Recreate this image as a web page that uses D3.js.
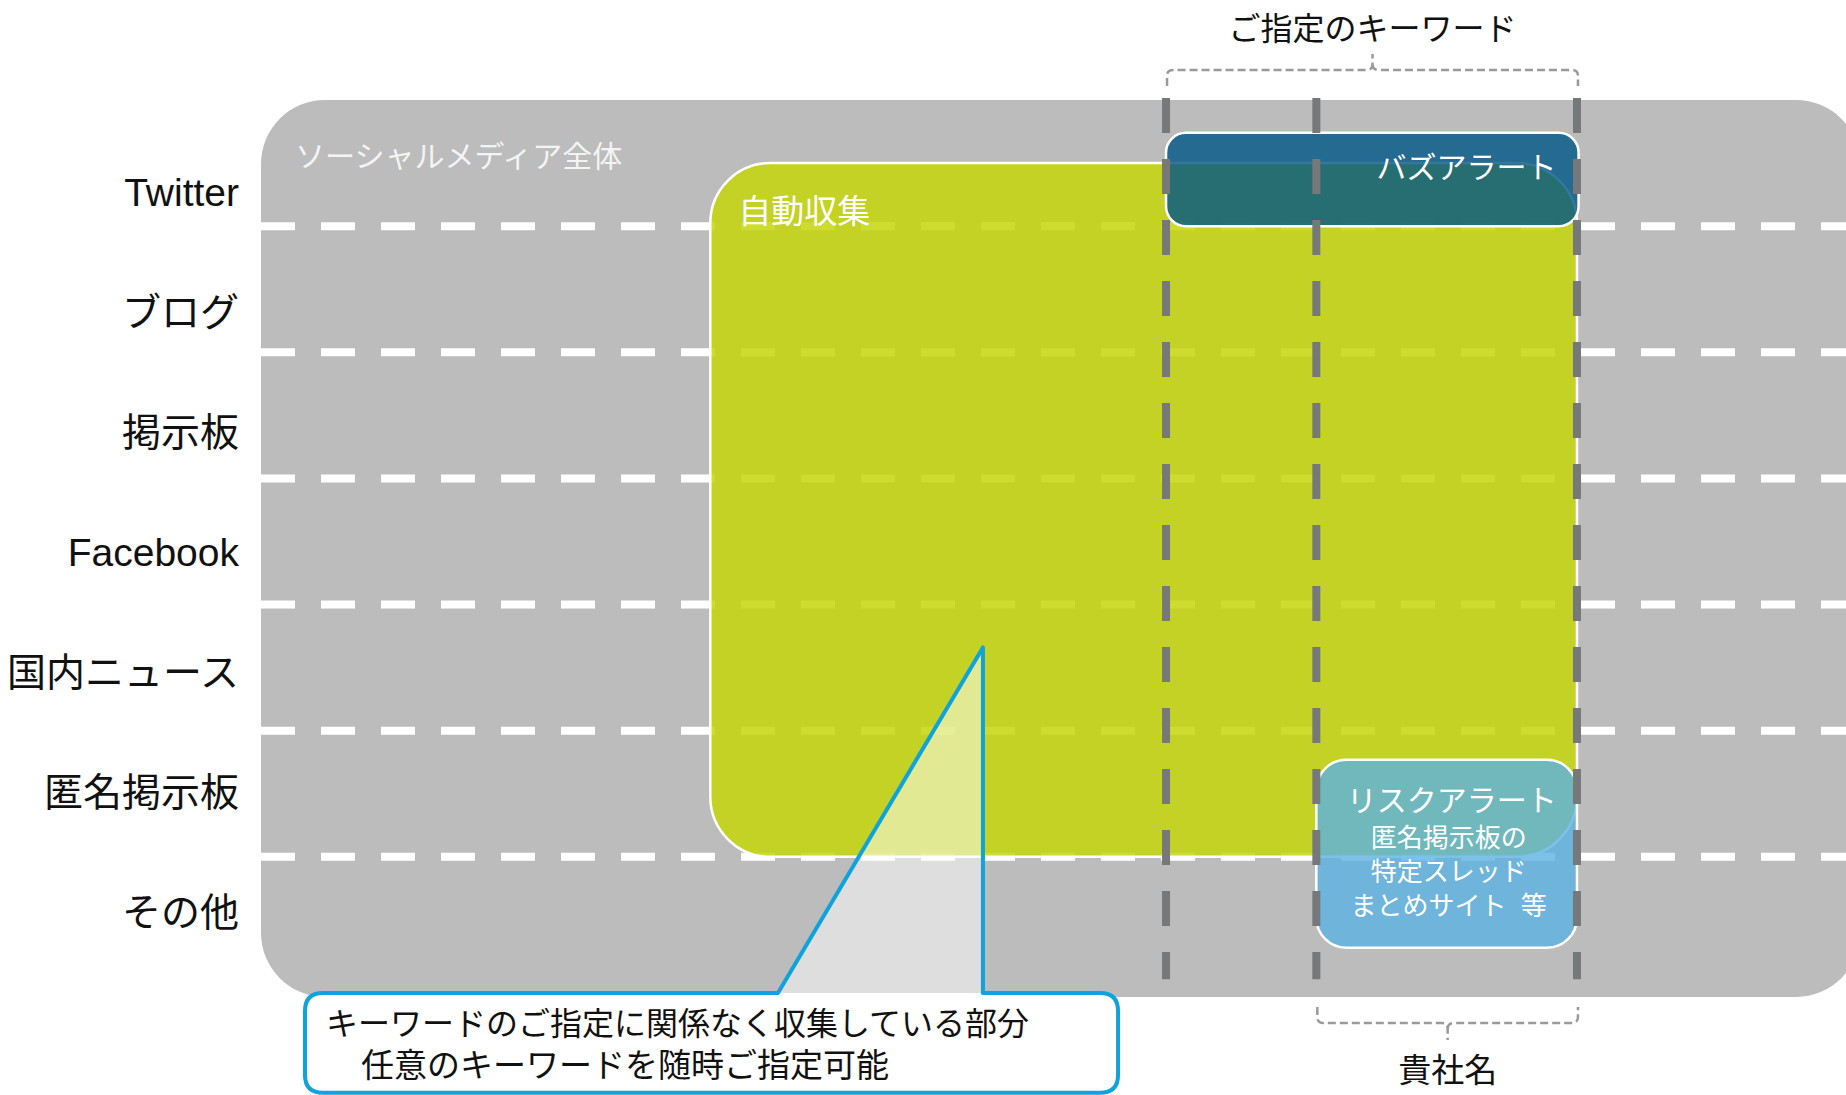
<!DOCTYPE html>
<html>
<head>
<meta charset="utf-8">
<script src="https://cdn.jsdelivr.net/npm/d3@7/dist/d3.min.js"></script>
<style>
  html, body { margin: 0; padding: 0; background: #ffffff; }
  svg { display: block; }
  text { font-family: "Liberation Sans", "Noto Sans CJK JP", sans-serif; }
</style>
</head>
<body>
<svg id="chart" width="1846" height="1095"></svg>
<script>
// ---------------- data ----------------
const channels = ["Twitter", "ブログ", "掲示板", "Facebook", "国内ニュース", "匿名掲示板", "その他"];

// coverage areas (x on a 0–100 coverage axis, y in channel-row units)
const areaNames = ["ソーシャルメディア全体", "自動収集", "バズアラート", "リスクアラート"];
const areaX0 = [0, 28.1, 56.6, 66.0];
const areaX1 = [100, 82.3, 82.4, 82.3];
const areaY0 = [0, 0.5, 0.26, 5.23];
const areaY1 = [7.11, 6.0, 1.0, 6.72];

// keyword guide lines (coverage axis)
const guideNames = ["ご指定のキーワード", "貴社名"];
const guides = [56.6, 66.0, 82.3];

const riskLines = ["匿名掲示板の", "特定スレッド", "まとめサイト  等"];
const calloutLines = ["キーワードのご指定に関係なく収集している部分", "任意のキーワードを随時ご指定可能"];
// callout geometry on the same axes
const calloutApex = [45.15, 4.34];
const calloutBaseLeft = 32.33;
const calloutBox = [2.75, 53.6, 7.08, 7.87];

// ---------------- scales ----------------
const svg = d3.select("#chart");
const x = d3.scaleLinear().domain([0, 100]).range([261, 1860]);
const y = d3.scaleLinear().domain([0, 7]).range([100, 983]);
const yLabel = d3.scaleBand().domain(channels).range([132, 972]);

const gray = "#bbbcbb";
const radii = [64, 60, 20, 30];
const fills = [gray, "#c4d60b", "#005586", "#5db1e3"];
const opac = [1, 0.85, 0.8, 0.8];

function rr(i) {
  return { x: x(areaX0[i]), y: y(areaY0[i]), w: x(areaX1[i]) - x(areaX0[i]), h: y(areaY1[i]) - y(areaY0[i]), r: radii[i] };
}

// background area
const bg = rr(0);
svg.append("rect").attr("x", bg.x).attr("y", bg.y).attr("width", bg.w).attr("height", bg.h)
  .attr("rx", bg.r).attr("fill", gray);

svg.append("defs").append("clipPath").attr("id", "bgclip")
  .append("rect").attr("x", bg.x).attr("y", bg.y).attr("width", bg.w).attr("height", bg.h).attr("rx", bg.r);

// row separators
svg.append("g").attr("clip-path", "url(#bgclip)")
  .selectAll("line").data(channels.slice(1)).join("line")
  .attr("x1", x(0)).attr("x2", x(100))
  .attr("y1", (d, i) => y(i + 1)).attr("y2", (d, i) => y(i + 1))
  .attr("stroke", "#ffffff").attr("stroke-width", 8)
  .attr("stroke-dasharray", "34,26");

// coverage boxes
[1, 2, 3].forEach(i => {
  const b = rr(i);
  svg.append("rect").attr("x", b.x).attr("y", b.y).attr("width", b.w).attr("height", b.h)
    .attr("rx", b.r).attr("fill", fills[i]).attr("fill-opacity", opac[i])
    .attr("stroke", "#ffffff").attr("stroke-width", 2.5);
});

// vertical keyword guides
svg.append("g").selectAll("line").data(guides).join("line")
  .attr("x1", d => x(d)).attr("x2", d => x(d))
  .attr("y1", y(-0.015)).attr("y2", y(6.97))
  .attr("stroke", "#77787a").attr("stroke-width", 8)
  .attr("stroke-dasharray", "35,26");

// channel labels
svg.append("g").selectAll("text").data(channels).join("text")
  .attr("x", 239).attr("y", d => yLabel(d) + yLabel.bandwidth() / 2)
  .attr("text-anchor", "end").attr("dominant-baseline", "central")
  .attr("font-size", 39).attr("fill", "#111111").text(d => d);

// area labels
const a0 = rr(0), a1 = rr(1), a2 = rr(2), a3 = rr(3);
svg.append("text").attr("x", a0.x + 34).attr("y", a0.y + 56).attr("dominant-baseline", "central")
  .attr("font-size", 30).attr("fill", "#f4f4f4").text(areaNames[0]);
svg.append("text").attr("x", a1.x + 28).attr("y", a1.y + 48).attr("dominant-baseline", "central")
  .attr("font-size", 33).attr("fill", "#ffffff").text(areaNames[1]);
svg.append("text").attr("x", a2.x + a2.w - 22).attr("y", a2.y + 35).attr("dominant-baseline", "central")
  .attr("text-anchor", "end").attr("font-size", 30).attr("fill", "#ffffff").text(areaNames[2]);
const rcx = a3.x + a3.w / 2 + 5;
svg.append("text").attr("x", rcx).attr("y", a3.y + 41).attr("dominant-baseline", "central")
  .attr("text-anchor", "middle").attr("font-size", 30).attr("fill", "#ffffff").text(areaNames[3]);
svg.append("g").selectAll("text").data(riskLines).join("text")
  .attr("x", rcx - 3).attr("y", (d, i) => a3.y + 78 + i * 34).attr("dominant-baseline", "central")
  .attr("text-anchor", "middle").attr("font-size", 26).attr("fill", "#ffffff")
  .style("white-space", "pre").text(d => d);

// brackets
function bracket(x0, x1, yl, s, E, N) {
  const r = 6, xm = (x0 + x1) / 2;
  return `M${x0},${yl + s * E} L${x0},${yl + s * r} Q${x0},${yl} ${x0 + r},${yl} L${xm - r},${yl} Q${xm},${yl} ${xm},${yl - s * r} L${xm},${yl - s * N}` +
         ` M${xm},${yl - s * r} Q${xm},${yl} ${xm + r},${yl} L${x1 - r},${yl} Q${x1},${yl} ${x1},${yl + s * r} L${x1},${yl + s * E}`;
}
const brTop = [x(guides[0]) + 1, x(guides[2]) + 1];
const brBot = [x(guides[1]) + 1, x(guides[2]) + 1];
svg.append("path").attr("d", bracket(brTop[0], brTop[1], 70, 1, 16, 16))
  .attr("fill", "none").attr("stroke", "#9a9a9a").attr("stroke-width", 2.5).attr("stroke-dasharray", "8,4");
svg.append("path").attr("d", bracket(brBot[0], brBot[1], 1023, -1, 16, 17))
  .attr("fill", "none").attr("stroke", "#9a9a9a").attr("stroke-width", 2.5).attr("stroke-dasharray", "8,4");
svg.append("text").attr("x", (brTop[0] + brTop[1]) / 2).attr("y", 29).attr("text-anchor", "middle")
  .attr("dominant-baseline", "central").attr("font-size", 32).attr("fill", "#111111").text(guideNames[0]);
svg.append("text").attr("x", (brBot[0] + brBot[1]) / 2).attr("y", 1070).attr("text-anchor", "middle")
  .attr("dominant-baseline", "central").attr("font-size", 33).attr("fill", "#111111").text(guideNames[1]);

// callout
const bx0 = x(calloutBox[0]), bx1 = x(calloutBox[1]), by0 = y(calloutBox[2]), by1 = y(calloutBox[3]);
const ax = x(calloutApex[0]), ay = y(calloutApex[1]), blx = x(calloutBaseLeft);
const cr = 18;
svg.append("rect").attr("x", bx0).attr("y", by0).attr("width", bx1 - bx0).attr("height", by1 - by0)
  .attr("rx", cr).attr("fill", "#ffffff");
svg.append("path").attr("d", `M${blx},${by0} L${ax},${ay} L${ax},${by0} Z`)
  .attr("fill", "#ffffff").attr("fill-opacity", 0.5);
const outline = `M${blx},${by0} L${ax},${ay} L${ax},${by0} L${bx1 - cr},${by0} Q${bx1},${by0} ${bx1},${by0 + cr} ` +
  `L${bx1},${by1 - cr} Q${bx1},${by1} ${bx1 - cr},${by1} L${bx0 + cr},${by1} Q${bx0},${by1} ${bx0},${by1 - cr} ` +
  `L${bx0},${by0 + cr} Q${bx0},${by0} ${bx0 + cr},${by0} Z`;
svg.append("path").attr("d", outline).attr("fill", "none")
  .attr("stroke", "#0ea3dc").attr("stroke-width", 4).attr("stroke-linejoin", "round");
svg.append("g").selectAll("text").data(calloutLines).join("text")
  .attr("x", (d, i) => bx0 + 21 + i * 35).attr("y", (d, i) => by0 + 31 + i * 41)
  .attr("dominant-baseline", "central").attr("font-size", (d, i) => i === 0 ? 32 : 33)
  .attr("fill", "#111111").text(d => d);
</script>
</body>
</html>
